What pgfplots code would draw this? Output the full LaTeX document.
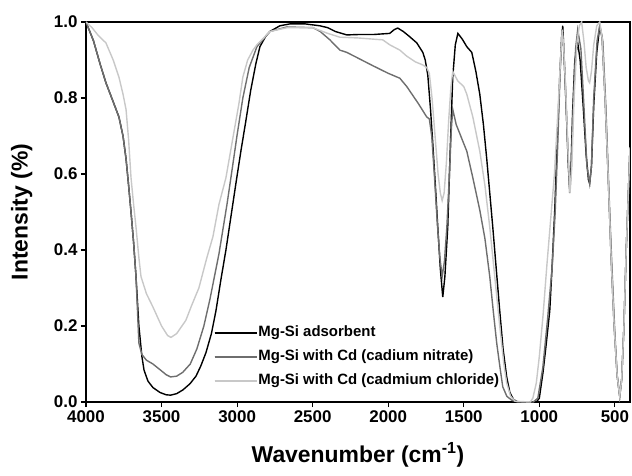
\documentclass[border=0pt]{standalone}
\usepackage{pgfplots}
\pgfplotsset{compat=1.18}
\usepackage{fontspec}
\setmainfont{Liberation Sans}
\usetikzlibrary{calc}

\definecolor{nitrate}{HTML}{6E6E6E}
\definecolor{chloride}{HTML}{C8C8C8}

\pgfplotstableread{
x y
4000 1.00
3950 0.95
3907 0.89
3868 0.84
3820 0.79
3782 0.75
3755 0.70
3735 0.64
3718 0.57
3702 0.50
3685 0.42
3669 0.33
3650 0.20
3630 0.12
3616 0.084
3590 0.055
3557 0.038
3510 0.025
3470 0.019
3440 0.018
3400 0.022
3358 0.032
3312 0.048
3272 0.068
3240 0.095
3206 0.13
3170 0.18
3140 0.24
3108 0.32
3074 0.40
3040 0.49
3008 0.575
2975 0.66
2942 0.74
2910 0.82
2876 0.89
2849 0.935
2810 0.963
2783 0.975
2717 0.99
2650 0.995
2550 0.995
2452 0.99
2400 0.985
2350 0.975
2274 0.966
2200 0.967
2100 0.967
1990 0.97
1960 0.98
1937 0.984
1900 0.975
1860 0.962
1811 0.945
1771 0.92
1755 0.90
1738 0.86
1720 0.77
1705 0.68
1688 0.57
1672 0.46
1655 0.35
1639 0.276
1625 0.33
1606 0.46
1590 0.66
1573 0.855
1556 0.94
1539 0.97
1510 0.955
1480 0.935
1447 0.92
1420 0.87
1394 0.81
1370 0.73
1348 0.64
1328 0.55
1308 0.46
1285 0.35
1262 0.24
1240 0.14
1216 0.066
1195 0.025
1170 0.006
1140 0.0
1020 0.0
1000 0.01
975 0.08
955 0.15
931 0.24
915 0.36
898 0.505
882 0.68
865 0.855
852 0.96
845 0.99
838 0.93
829 0.84
819 0.74
808 0.62
799 0.56
790 0.62
780 0.76
765 0.90
746 0.945
730 0.90
710 0.78
690 0.65
675 0.585
667 0.575
655 0.62
640 0.78
620 0.92
600 0.99
585 0.96
565 0.80
545 0.60
525 0.38
505 0.20
485 0.07
468 0.015
455 0.06
440 0.20
425 0.40
410 0.56
400 0.67
}\adsorbent

\pgfplotstableread{
x y
4000 1.00
3950 0.95
3907 0.89
3868 0.84
3820 0.79
3782 0.75
3755 0.70
3735 0.64
3718 0.57
3702 0.50
3685 0.42
3669 0.33
3650 0.155
3630 0.125
3600 0.11
3557 0.10
3510 0.085
3470 0.072
3440 0.066
3400 0.068
3360 0.078
3310 0.10
3266 0.14
3220 0.20
3180 0.27
3120 0.39
3067 0.52
3030 0.62
3001 0.70
2962 0.80
2920 0.88
2869 0.935
2783 0.975
2670 0.987
2498 0.985
2450 0.975
2386 0.953
2320 0.926
2274 0.92
2200 0.905
2102 0.885
2000 0.865
1923 0.852
1877 0.83
1800 0.785
1745 0.75
1728 0.745
1712 0.70
1695 0.60
1675 0.47
1658 0.38
1643 0.33
1628 0.37
1612 0.46
1595 0.60
1582 0.72
1573 0.77
1550 0.73
1520 0.70
1480 0.66
1440 0.59
1394 0.505
1360 0.43
1328 0.33
1305 0.24
1282 0.155
1260 0.09
1242 0.04
1215 0.015
1180 0.004
1140 0.0
1040 0.0
1010 0.01
977 0.09
945 0.22
915 0.355
895 0.50
878 0.68
863 0.86
850 0.98
842 0.95
829 0.85
815 0.70
799 0.55
790 0.60
778 0.75
760 0.93
746 0.98
725 0.93
705 0.78
685 0.62
667 0.575
655 0.62
640 0.80
618 0.95
600 0.99
580 0.95
560 0.78
540 0.56
520 0.36
500 0.18
485 0.07
468 0.015
455 0.06
440 0.20
425 0.40
410 0.56
400 0.67
}\nitrate

\pgfplotstableread{
x y
4000 1.00
3960 0.985
3920 0.965
3868 0.945
3820 0.90
3782 0.855
3755 0.81
3735 0.77
3718 0.69
3702 0.59
3685 0.52
3669 0.46
3650 0.38
3636 0.33
3600 0.285
3557 0.25
3500 0.20
3460 0.175
3438 0.17
3400 0.18
3339 0.215
3300 0.255
3253 0.30
3200 0.38
3160 0.435
3120 0.52
3074 0.59
3030 0.69
2988 0.785
2962 0.855
2930 0.90
2895 0.926
2869 0.94
2783 0.975
2670 0.985
2498 0.985
2400 0.97
2320 0.96
2200 0.958
2036 0.953
1990 0.94
1923 0.926
1877 0.91
1820 0.895
1771 0.887
1745 0.88
1728 0.865
1710 0.80
1690 0.70
1670 0.60
1655 0.55
1643 0.53
1630 0.55
1615 0.63
1600 0.74
1585 0.83
1573 0.87
1540 0.845
1500 0.83
1480 0.81
1440 0.75
1394 0.66
1360 0.57
1328 0.46
1295 0.33
1262 0.20
1235 0.10
1216 0.05
1190 0.015
1160 0.002
1060 0.0
1043 0.01
1020 0.05
1000 0.12
975 0.23
950 0.36
925 0.48
900 0.60
875 0.78
860 0.90
848 0.98
838 0.93
825 0.82
810 0.66
797 0.55
785 0.62
770 0.80
750 0.95
735 0.99
720 1.00
705 0.95
690 0.88
675 0.845
667 0.84
655 0.87
640 0.94
620 0.99
600 1.00
585 0.96
565 0.80
545 0.60
525 0.38
505 0.20
485 0.07
468 0.015
455 0.06
440 0.20
425 0.40
410 0.56
400 0.67
}\chloride

\begin{document}
\begin{tikzpicture}
\begin{axis}[
    width=544bp, height=380bp, scale only axis,
    x dir=reverse,
    xmin=400, xmax=4000, ymin=0, ymax=1,
    xtick={500,1000,...,4000},
    ytick={0,0.2,...,1.0},
    xtick pos=left, ytick pos=left,
    tick align=outside,
    major tick length=5bp,
    tick style={black, line width=1.1bp},
    axis line style={line width=1.5bp},
    /pgf/number format/assume math mode=true,
    /pgf/number format/1000 sep={},
    yticklabel style={/pgf/number format/.cd, fixed, fixed zerofill, precision=1},
    ticklabel style={font=\bfseries\fontsize{17}{20}\selectfont},
    xlabel={Wavenumber (cm\textsuperscript{-1})},
    ylabel={Intensity (\%)},
    label style={font=\bfseries\fontsize{23}{27}\selectfont},
    xlabel style={at={(axis description cs:0.5,-0.14)}, anchor=center},
    ylabel style={at={(axis description cs:-0.118,0.5)}, anchor=center},
    legend cell align=left,
    legend style={draw=none, fill=none, inner sep=0pt,
        at={(0.235,0.034)}, anchor=south west,
        font=\bfseries\fontsize{15}{17}\selectfont,
        row sep=8bp,
        nodes={inner sep=1bp, text height=11bp, text depth=3bp}},
    legend image code/.code={\draw[#1] (0bp,0bp) -- (34bp,0bp);
        \path (0bp,0bp) -- (42bp,0bp);},
    every axis plot/.append style={line width=1.4bp},
]
\addplot[black] table[x=x,y=y] {\adsorbent};
\addlegendentry{Mg-Si adsorbent}
\addplot[nitrate] table[x=x,y=y] {\nitrate};
\addlegendentry{Mg-Si with Cd (cadium nitrate)}
\addplot[chloride] table[x=x,y=y] {\chloride};
\addlegendentry{Mg-Si with Cd (cadmium chloride)}
\coordinate (bl) at (rel axis cs:0,0);
\coordinate (tr) at (rel axis cs:1,1);
\end{axis}
\pgfresetboundingbox
\path[use as bounding box] ($(bl)+(-86bp,-74bp)$) rectangle ($(tr)+(2bp,22bp)$);
\end{tikzpicture}
\end{document}
